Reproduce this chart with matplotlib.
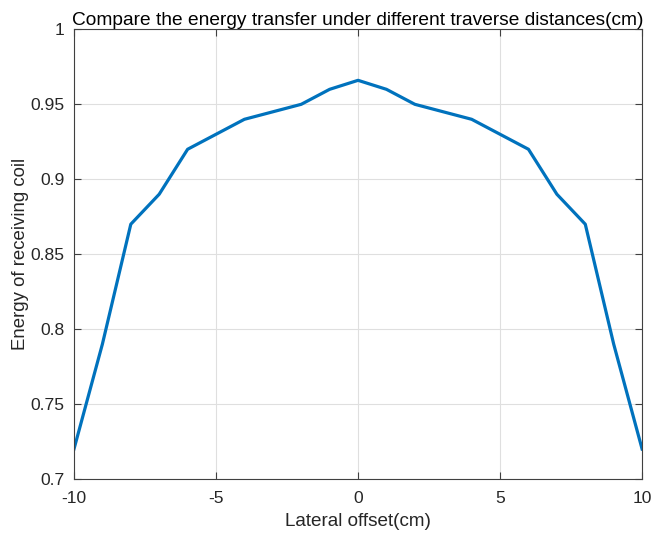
import matplotlib
matplotlib.use("Agg")
import matplotlib.pyplot as plt

plt.rcParams['font.family'] = ['Liberation Sans', 'DejaVu Sans']

offsets = [-10, -9, -8, -7, -6, -5, -4, -3, -2, -1, 0, 1, 2, 3, 4, 5, 6, 7, 8, 9, 10]
energy = [0.72, 0.79, 0.87, 0.89, 0.92, 0.93, 0.94, 0.945, 0.95, 0.96, 0.966,
          0.96, 0.95, 0.945, 0.94, 0.93, 0.92, 0.89, 0.87, 0.79, 0.72]
xticks = [-10, -5, 0, 5, 10]
yticks = [0.7, 0.75, 0.8, 0.85, 0.9, 0.95, 1]
yticklabels = ['0.7', '0.75', '0.8', '0.85', '0.9', '0.95', '1']

fig = plt.figure(figsize=(6.53, 5.34), dpi=100)
ax = fig.add_axes([0.1133, 0.103, 0.870, 0.842])
ax.plot(offsets, energy, color='#0072BD', linewidth=2.3)
ax.set_xlim(-10, 10)
ax.set_ylim(0.7, 1)
ax.set_xticks(xticks)
ax.set_xticklabels([str(t) for t in xticks])
ax.set_yticks(yticks)
ax.set_yticklabels(yticklabels)
ax.grid(True, color='#DFDFDF', linewidth=0.8)
ax.set_axisbelow(True)
for s in ax.spines.values():
    s.set_color('#404040')
    s.set_linewidth(0.8)
ax.tick_params(direction='in', top=True, right=True, length=5, width=0.8,
               colors='#404040', labelsize=12.6, labelcolor='#262626')
ax.tick_params(axis='x', pad=9)
ax.tick_params(axis='y', pad=7)
ax.set_xlabel('Lateral offset(cm)', fontsize=13.6, color='#262626', labelpad=5)
ax.set_ylabel('Energy of receiving coil', fontsize=13.4, color='#262626', labelpad=1)
ax.set_title('Compare the energy transfer under different traverse distances(cm)',
             fontsize=13.8, color='#000000', pad=3)
fig.savefig('out.png', dpi=100)
